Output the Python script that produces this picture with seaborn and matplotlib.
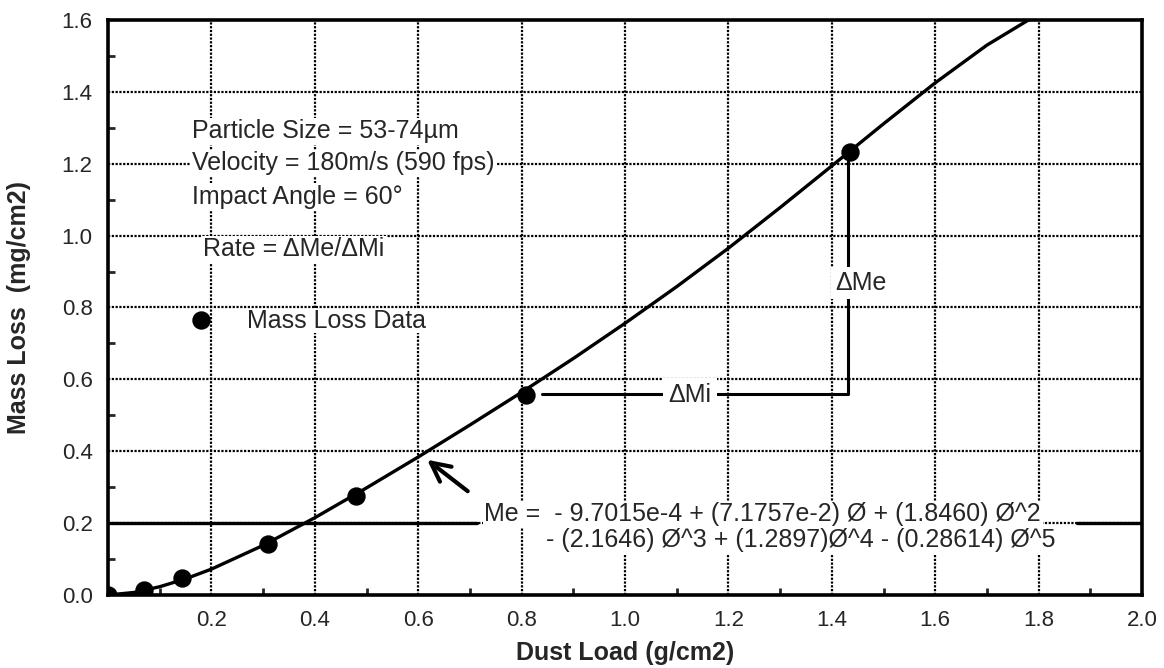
import numpy as np
import pandas as pd
import matplotlib
matplotlib.use("Agg")
import matplotlib.pyplot as plt
import seaborn as sns

# measured mass loss points
dust_load = [0.0, 0.07, 0.143, 0.309, 0.479, 0.809, 1.436]
mass_loss = [0.0, 0.013, 0.047, 0.142, 0.276, 0.557, 1.234]

# fitted curve read along its length
fit_x = [0.0, 0.05, 0.1, 0.15, 0.2, 0.3, 0.4, 0.5, 0.6, 0.7, 0.8, 0.9,
         1.0, 1.1, 1.2, 1.3, 1.4, 1.5, 1.6, 1.7, 1.8]
fit_y = [0.0, 0.007, 0.023, 0.045, 0.072, 0.138, 0.215, 0.298, 0.384, 0.473,
         0.564, 0.658, 0.756, 0.858, 0.965, 1.078, 1.194, 1.311, 1.425, 1.530, 1.617]

x_ticks = [0.2, 0.4, 0.6, 0.8, 1.0, 1.2, 1.4, 1.6, 1.8, 2.0]
y_ticks = [0.0, 0.2, 0.4, 0.6, 0.8, 1.0, 1.2, 1.4, 1.6]


def main():
    sns.set_style("ticks")
    plt.rcParams['font.family'] = ['Liberation Sans', 'DejaVu Sans']

    fig = plt.figure(figsize=(11.64, 6.68), dpi=100)
    ax = fig.add_axes([0.0928, 0.1093, 0.8883, 0.8608])

    # dotted grid
    for gx in x_ticks[:-1]:
        ax.axvline(gx, color='black', lw=1.6, ls=(0, (1, 0.7)), zorder=1)
    for gy in y_ticks[1:-1]:
        ax.axhline(gy, color='black', lw=1.6, ls=(0, (1, 0.7)), zorder=1)

    fit = pd.DataFrame({"x": fit_x, "y": fit_y})
    sns.lineplot(data=fit, x="x", y="y", ax=ax, color='black', lw=2.4,
                 sort=False, estimator=None, zorder=3)
    pts = pd.DataFrame({"x": dust_load, "y": mass_loss})
    sns.scatterplot(data=pts, x="x", y="y", ax=ax, color='black', s=150,
                    edgecolor='black', zorder=4)

    ax.set_xlim(0, 2.0)
    ax.set_ylim(0, 1.6)
    ax.set_xticks(x_ticks)
    ax.set_xticklabels([f"{v:.1f}" for v in x_ticks])
    ax.set_yticks(y_ticks)
    ax.set_yticklabels([f"{v:.1f}" for v in y_ticks])
    ax.set_xticks(np.arange(0.1, 2.0, 0.2), minor=True)
    ax.set_yticks(np.arange(0.1, 1.6, 0.2), minor=True)
    ax.tick_params(axis='both', which='both', direction='in', width=2,
                   labelsize=16)
    ax.tick_params(which='major', length=0, pad=11)
    ax.tick_params(which='minor', length=5)
    for sp in ax.spines.values():
        sp.set_linewidth(2.6)
        sp.set_color('black')

    ax.set_xlabel('Dust Load (g/cm2)', fontsize=18, fontweight='bold', labelpad=7)
    ax.set_ylabel('Mass Loss  (mg/cm2)', fontsize=18, fontweight='bold', labelpad=22)

    fs = 18
    wbox = dict(facecolor='white', edgecolor='none', pad=1)
    ax.text(0.162, 1.290, 'Particle Size = 53-74µm', fontsize=fs,
            va='center', bbox=wbox, zorder=5)
    ax.text(0.162, 1.202, 'Velocity = 180m/s (590 fps)', fontsize=fs,
            va='center', bbox=wbox, zorder=5)
    ax.text(0.162, 1.108, 'Impact Angle = 60°', fontsize=fs,
            va='center', bbox=wbox, zorder=5)
    ax.text(0.184, 0.962, 'Rate = ΔMe/ΔMi', fontsize=fs,
            va='center', bbox=wbox, zorder=5)
    ax.scatter([0.18], [0.765], s=150, color='black', zorder=5)
    ax.text(0.268, 0.762, 'Mass Loss Data', fontsize=fs,
            va='center', bbox=dict(facecolor='white', edgecolor='none', pad=0),
            zorder=5)

    # delta bracket
    ax.plot([0.84, 1.432, 1.432], [0.56, 0.56, 1.21], color='black', lw=2.2,
            zorder=3)
    ax.text(1.125, 0.556, 'ΔMi', fontsize=fs, ha='center', va='center',
            bbox=dict(facecolor='white', edgecolor='none', pad=4), zorder=5)
    ax.text(1.457, 0.868, 'ΔMe', fontsize=fs, ha='center', va='center',
            bbox=dict(facecolor='white', edgecolor='none', pad=3), zorder=5)

    # equation and its leader
    ax.plot([0.0, 0.713], [0.2, 0.2], color='black', lw=2.4, zorder=2)
    ax.plot([1.875, 2.0], [0.2, 0.2], color='black', lw=2.4, zorder=2)
    ax.text(0.728, 0.224, 'Me =  - 9.7015e-4 + (7.1757e-2) Ø + (1.8460) Ø^2',
            fontsize=fs, va='center', bbox=wbox, zorder=5)
    ax.text(0.848, 0.152, '- (2.1646) Ø^3 + (1.2897)Ø^4 - (0.28614) Ø^5',
            fontsize=fs, va='center', bbox=wbox, zorder=5)
    ax.annotate('', xy=(0.613, 0.381), xytext=(0.70, 0.284),
                arrowprops=dict(arrowstyle='->', lw=3, color='black',
                                mutation_scale=34), zorder=5)

    fig.savefig('out.png', dpi=100)


if __name__ == "__main__":
    main()
